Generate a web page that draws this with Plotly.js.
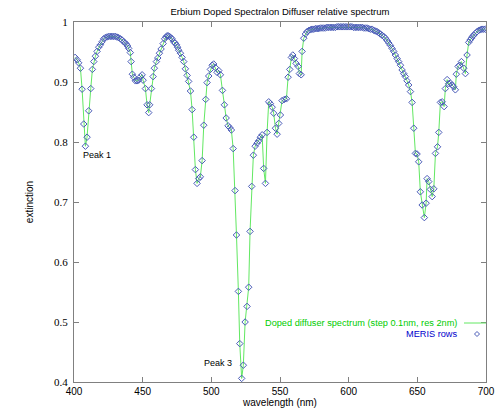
<!DOCTYPE html>
<html>
<head>
<meta charset="utf-8">
<script src="https://cdn.plot.ly/plotly-3.0.1.min.js"></script>
<style>html,body{margin:0;padding:0;background:#fff;}#chart{width:498px;height:411px;}</style>
</head>
<body>
<div id="chart"></div>
<script>
// MERIS row wavelengths (nm) and relative extinction values
const wavelength = [
400.8,402.3,403.4,404.7,405.9,407.1,408.3,409.5,410.7,412.2,413.4,414.4,415.6,416.8,418.0,419.2,420.4,421.6,422.8,424.0,
425.2,426.4,427.6,428.8,430.0,431.2,432.4,433.8,435.0,436.2,437.2,438.2,439.0,439.8,441.0,441.6,442.5,443.5,444.7,445.9,
447.1,448.4,449.6,450.3,452.0,453.2,454.4,455.1,456.4,457.6,458.5,460.0,461.0,462.2,463.4,464.9,466.0,466.9,467.8,468.6,
469.5,470.4,471.4,472.6,473.6,474.6,475.4,476.2,477.5,478.7,479.9,481.1,482.4,483.5,484.8,486.0,487.2,488.4,489.6,490.8,
492.0,493.3,494.5,495.9,496.9,498.1,499.3,500.6,501.7,503.0,504.2,505.4,506.6,508.1,509.5,510.8,512.2,513.4,514.6,515.9,
517.3,518.3,519.7,520.7,522.1,523.3,524.6,526.0,527.2,528.2,529.4,530.6,531.9,533.3,534.5,535.7,537.0,538.1,539.4,540.6,
541.8,543.0,544.3,545.4,546.7,547.9,549.1,550.3,551.5,553.2,554.7,555.9,557.1,558.3,559.3,560.5,561.7,563.2,564.1,565.4,
566.1,567.3,568.5,569.7,571.0,572.2,573.4,574.6,575.8,577.0,578.2,579.4,580.6,581.8,583.0,584.2,585.4,586.6,587.8,589.0,
590.3,591.5,592.7,593.9,595.1,596.3,597.5,598.7,600.0,601.2,602.4,603.6,604.8,606.0,607.2,608.4,609.8,611.0,612.2,613.4,
614.6,615.8,617.1,618.3,619.5,620.7,621.9,623.1,624.3,625.5,626.8,628.0,629.2,630.4,631.6,632.8,634.0,635.3,636.4,637.7,
638.9,640.1,641.3,642.5,643.7,645.0,646.2,647.4,648.6,649.8,651.0,652.2,653.5,655.1,656.4,657.1,658.3,659.5,660.8,662.0,
663.2,664.7,665.6,666.8,668.1,669.5,670.4,671.7,672.8,674.1,675.3,676.5,677.7,678.4,679.7,680.8,682.1,683.8,685.0,686.2,
687.4,688.4,689.4,690.2,691.0,692.2,693.5,694.7,695.9,697.1,698.3,699.5
];
const extinction = [
0.941,0.937,0.932,0.923,0.888,0.830,0.793,0.808,0.852,0.889,0.921,0.934,0.943,0.951,0.958,0.962,0.967,0.972,0.974,0.975,
0.976,0.976,0.976,0.976,0.976,0.975,0.974,0.972,0.970,0.967,0.965,0.963,0.960,0.956,0.949,0.934,0.913,0.908,0.902,0.902,
0.903,0.909,0.912,0.903,0.889,0.862,0.849,0.862,0.889,0.909,0.923,0.934,0.940,0.948,0.955,0.964,0.972,0.975,0.977,0.977,
0.976,0.974,0.972,0.967,0.965,0.962,0.958,0.953,0.948,0.941,0.934,0.922,0.911,0.901,0.885,0.854,0.808,0.754,0.731,0.739,
0.742,0.769,0.828,0.871,0.899,0.910,0.921,0.928,0.930,0.924,0.916,0.919,0.912,0.886,0.862,0.840,0.827,0.824,0.820,0.789,
0.719,0.645,0.551,0.464,0.406,0.428,0.500,0.526,0.558,0.651,0.726,0.778,0.793,0.798,0.802,0.808,0.812,0.756,0.731,0.816,
0.867,0.864,0.858,0.848,0.823,0.813,0.831,0.845,0.869,0.871,0.872,0.908,0.921,0.941,0.945,0.939,0.931,0.926,0.914,0.912,
0.951,0.973,0.980,0.984,0.986,0.987,0.988,0.988,0.989,0.989,0.989,0.990,0.990,0.990,0.990,0.991,0.991,0.991,0.991,0.991,
0.991,0.992,0.992,0.992,0.992,0.992,0.992,0.992,0.992,0.992,0.992,0.991,0.991,0.991,0.991,0.991,0.991,0.990,0.990,0.990,
0.989,0.988,0.988,0.986,0.985,0.984,0.982,0.980,0.978,0.976,0.973,0.969,0.965,0.961,0.956,0.951,0.945,0.939,0.934,0.928,
0.920,0.914,0.909,0.902,0.895,0.884,0.866,0.823,0.781,0.780,0.767,0.717,0.695,0.674,0.698,0.739,0.734,0.721,0.709,0.722,
0.781,0.792,0.816,0.866,0.867,0.859,0.889,0.904,0.897,0.898,0.895,0.892,0.887,0.913,0.926,0.928,0.934,0.923,0.914,0.945,
0.966,0.970,0.973,0.976,0.978,0.981,0.984,0.986,0.987,0.988,0.988,0.988
];
const xTicks = [400,450,500,550,600,650,700];
const yTicks = [0.4,0.5,0.6,0.7,0.8,0.9,1];
const seriesNames = ['Doped diffuser spectrum (step 0.1nm, res 2nm)', 'MERIS rows'];
const peakLabels = [{text:'Peak 1', x:417.0, y:0.778}, {text:'Peak 3', x:505.2, y:0.432}];

const lineColor = '#62e862';
const markerColor = '#4a5cb8';
const sans = 'Liberation Sans, Arial, sans-serif';

const traces = [
  {x: wavelength, y: extinction, type:'scatter', mode:'lines', name: seriesNames[0],
   line:{color: lineColor, width:1}, showlegend:false, hoverinfo:'skip'},
  {x: wavelength, y: extinction, type:'scatter', mode:'markers', name: seriesNames[1],
   marker:{symbol:'diamond-open', size:5, color: markerColor, line:{width:1, color: markerColor}}, showlegend:false}
];

const L = 74, R = 12, T = 22, B = 29, W = 498, H = 411;
const pw = W - L - R, ph = H - T - B;
const px = v => (v - L) / pw;
const py = v => (H - B - v) / ph;

const annotations = peakLabels.map(p => ({
  text: p.text, x: p.x, y: p.y, xref:'x', yref:'y', showarrow:false,
  font:{family: sans, size:9, color:'#000'}
}));
annotations.push({text: seriesNames[0], xref:'paper', yref:'paper', x: px(459), y: py(323),
  xanchor:'right', yanchor:'middle', showarrow:false, font:{family: sans, size:9.2, color:'#00cc00'}});
annotations.push({text: seriesNames[1], xref:'paper', yref:'paper', x: px(459), y: py(334),
  xanchor:'right', yanchor:'middle', showarrow:false, font:{family: sans, size:9.2, color:'#0000cc'}});

const shapes = [
  {type:'line', xref:'paper', yref:'paper', x0: px(464), x1: px(486), y0: py(323), y1: py(323),
   line:{color: lineColor, width:1}},
  {type:'path', xref:'paper', yref:'paper', xsizemode:'pixel', ysizemode:'pixel',
   xanchor: px(477), yanchor: py(334), path:'M -2.5 0 L 0 2.5 L 2.5 0 L 0 -2.5 Z',
   line:{color: markerColor, width:1}}
];

const axisCommon = {
  showgrid:false, zeroline:false, showline:true, linecolor:'#808080', linewidth:1,
  mirror:'ticks', ticks:'inside', ticklen:5, tickcolor:'#808080', tickwidth:1
};

const layout = {
  width: W, height: H,
  margin:{l:L, r:R, t:T, b:B, pad:0},
  paper_bgcolor:'#fff', plot_bgcolor:'#fff',
  showlegend:false,
  title:{text:'Erbium Doped Spectralon Diffuser relative spectrum', x:0.5, xref:'paper',
    y: 1 - 12/H, yref:'container', yanchor:'middle', font:{family: sans, size:9.5, color:'#000'}},
  xaxis: Object.assign({}, axisCommon, {
    range:[400,700], tickvals: xTicks, ticktext: xTicks.map(String),
    tickfont:{family: sans, size:10, color:'#000'},
    title:{text:'wavelength (nm)', font:{family: sans, size:10, color:'#000'}, standoff:1}
  }),
  yaxis: Object.assign({}, axisCommon, {
    range:[0.4,1], tickvals: yTicks, ticktext: yTicks.map(String),
    tickfont:{family:'Liberation Serif, Times New Roman, serif', size:11, color:'#000'},
    ticklabelstandoff: 3,
    title:{text:'extinction', font:{family: sans, size:10, color:'#000'}, standoff:18}
  }),
  annotations: annotations,
  shapes: shapes
};

Plotly.newPlot('chart', traces, layout, {staticPlot:true, displayModeBar:false});
</script>
</body>
</html>
